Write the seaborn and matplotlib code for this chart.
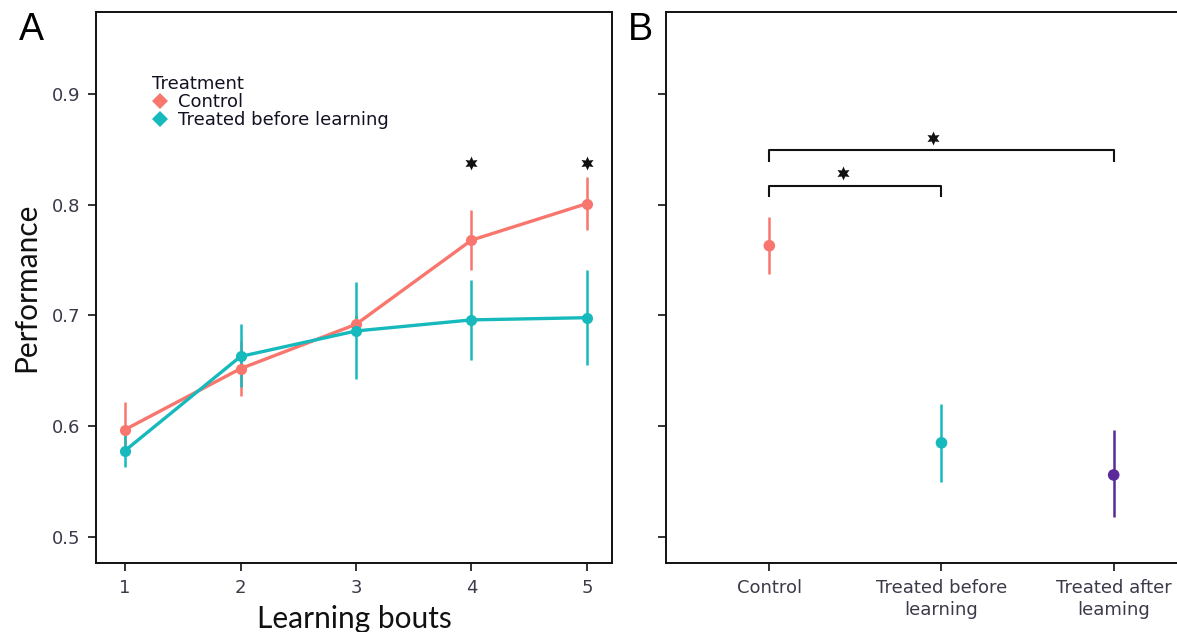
import numpy as np
import pandas as pd
import matplotlib
matplotlib.use("Agg")
import matplotlib.pyplot as plt
from matplotlib.lines import Line2D
import seaborn as sns

# ---------------- data ----------------
bouts = [1, 2, 3, 4, 5]
groups_a = ["Control", "Treated before learning"]
control_mean = [0.597, 0.652, 0.692, 0.768, 0.801]
control_lo = [0.574, 0.627, 0.684, 0.741, 0.777]
control_hi = [0.622, 0.677, 0.700, 0.795, 0.825]
treated_mean = [0.578, 0.663, 0.686, 0.696, 0.698]
treated_lo = [0.563, 0.635, 0.643, 0.660, 0.655]
treated_hi = [0.593, 0.692, 0.730, 0.732, 0.741]
sig_bouts = [4, 5]
sig_y_a = 0.838

groups_b = ["Control", "Treated before\nlearning", "Treated after\nleaming"]
b_mean = [0.763, 0.585, 0.556]
b_lo = [0.737, 0.550, 0.518]
b_hi = [0.789, 0.620, 0.597]

yticks = [0.5, 0.6, 0.7, 0.8, 0.9]

colors = {"Control": "#F8766D", "Treated before learning": "#16B9BC"}
colors_b = ["#F8766D", "#16B9BC", "#5A2A9A"]

# ---------------- style ----------------
sns.set_theme(style="white")
plt.rcParams["font.family"] = ["DejaVu Sans"]
plt.rcParams["axes.edgecolor"] = "#111111"
plt.rcParams["axes.linewidth"] = 1.4

TICK_FS = 13
TITLE_FONT = ["Lato", "DejaVu Sans"]

fig = plt.figure(figsize=(11.77, 6.32), dpi=100)
axA = fig.add_axes([96 / 1177, 69 / 632, 516 / 1177, 551 / 632])
axB = fig.add_axes([666 / 1177, 69 / 632, 520 / 1177, 551 / 632])

STAR = (6, 1, 0)

# ---------------- panel A ----------------
df = pd.DataFrame({
    "bout": bouts * 2,
    "perf": control_mean + treated_mean,
    "Treatment": [groups_a[0]] * 5 + [groups_a[1]] * 5,
})
sns.lineplot(data=df, x="bout", y="perf", hue="Treatment", palette=colors,
             marker="o", markersize=8, markeredgewidth=0, linewidth=2.4,
             legend=False, ax=axA)
for g, m, lo, hi in [(groups_a[0], control_mean, control_lo, control_hi),
                     (groups_a[1], treated_mean, treated_lo, treated_hi)]:
    m = np.array(m)
    axA.errorbar(bouts, m, yerr=[m - np.array(lo), np.array(hi) - m], fmt="none",
                 ecolor=colors[g], elinewidth=1.8, capsize=0, zorder=1)
axA.scatter(sig_bouts, [sig_y_a] * len(sig_bouts), marker=STAR, s=100,
            color="#111111", linewidths=0, zorder=5)

axA.set_xlim(0.748, 5.217)
axA.set_ylim(0.4765, 0.974)
axA.set_xticks(bouts)
axA.set_yticks(yticks)
axA.set_yticklabels([f"{v:.1f}" for v in yticks])
axA.set_xlabel("Learning bouts", fontsize=21.5, color="#111111", labelpad=6,
               family=TITLE_FONT)
axA.set_ylabel("Performance", fontsize=21.5, color="#111111", labelpad=8,
               family=TITLE_FONT)
axA.tick_params(axis="both", which="major", direction="out", length=5.5, width=1.2,
                color="#111111", labelsize=TICK_FS, labelcolor="#3a3a4a",
                bottom=True, left=True, pad=6)
for s in axA.spines.values():
    s.set_visible(True)

handles = [Line2D([], [], marker="D", linestyle="none", markersize=8,
                  markerfacecolor=colors[g], markeredgewidth=0) for g in groups_a]
leg = axA.legend(handles, groups_a, title="Treatment", loc="upper left",
                 bbox_to_anchor=(0.108, 0.885), frameon=False, fontsize=13,
                 title_fontsize=13, handlelength=0.9, handletextpad=0.55,
                 labelspacing=0.0, borderpad=0, borderaxespad=0)
leg._legend_box.align = "left"
for t in leg.get_texts():
    t.set_color("#111122")
leg.get_title().set_color("#111122")

fig.text(31 / 1177, 1 - 30 / 632, "A", fontsize=27, ha="center", va="center",
         color="#000000", family=["Liberation Sans", "DejaVu Sans"])

# ---------------- panel B ----------------
xpos = np.arange(len(groups_b))
dfb = pd.DataFrame({"group": groups_b, "perf": b_mean, "pos": xpos})
sns.scatterplot(data=dfb, x="pos", y="perf", hue="group",
                palette=colors_b, s=70, edgecolor="none", legend=False, ax=axB,
                zorder=3)
bm = np.array(b_mean)
for i, c in enumerate(colors_b):
    axB.errorbar([i], [bm[i]], yerr=[[bm[i] - b_lo[i]], [b_hi[i] - bm[i]]],
                 fmt="none", ecolor=c, elinewidth=1.8, capsize=0, zorder=2)

# significance brackets
def bracket(ax, x1, x2, y, h, star_x, star_y):
    ax.plot([x1, x1, x2, x2], [y - h, y, y, y - h], color="#111111", lw=1.5,
            solid_joinstyle="round", solid_capstyle="butt")
    ax.scatter([star_x], [star_y], marker=STAR, s=100, color="#111111",
               linewidths=0, zorder=5)

bracket(axB, 0, 2, 0.849, 0.010, 0.95, 0.860)
bracket(axB, 0, 1, 0.817, 0.010, 0.43, 0.829)

axB.set_xlim(-0.6, 2.42)
axB.set_ylim(0.4765, 0.974)
axB.set_xticks(xpos)
axB.set_xticklabels(groups_b, linespacing=1.3)
axB.set_yticks(yticks)
axB.set_yticklabels([])
axB.set_xlabel("")
axB.set_ylabel("")
axB.tick_params(axis="both", which="major", direction="out", length=5.5, width=1.2,
                color="#111111", labelsize=TICK_FS, labelcolor="#3a3a4a",
                bottom=True, left=True, pad=6)
for s in axB.spines.values():
    s.set_visible(True)

fig.text(640 / 1177, 1 - 30 / 632, "B", fontsize=27, ha="center", va="center",
         color="#000000", family=["Liberation Sans", "DejaVu Sans"])

fig.savefig("out.png", dpi=100)
